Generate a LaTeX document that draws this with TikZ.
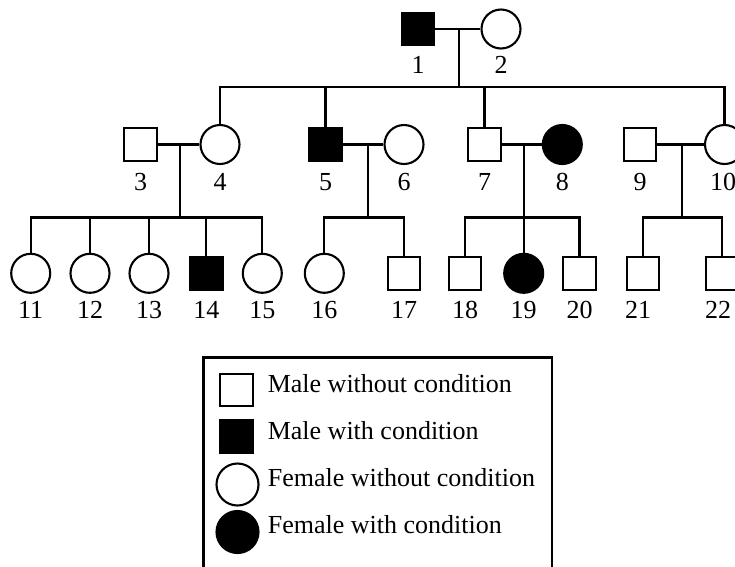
\documentclass[tikz,border=0pt]{standalone}
\usepackage{fontspec}
\setmainfont{Liberation Serif}
\tikzset{
  male/.style={draw, line width=2.1pt, minimum size=32.5pt, inner sep=0pt},
  female/.style={circle, draw, line width=2.1pt, minimum size=39pt, inner sep=0pt},
  affected/.style={fill=black},
  num/.style={inner sep=0pt, font=\fontsize{26}{30}\selectfont},
}
\begin{document}
\begin{tikzpicture}[x=1pt, y=-1pt, line width=2.2pt]
  \useasboundingbox (0,0) rectangle (735,566);
  % generation I
  \draw
    (418,29) node[male,affected] (p1){}
    (501,29) node[female] (p2){};
  % generation II
  \draw
    (140.5,144.5) node[male] (p3){}
    (220,144.5) node[female] (p4){}
    (325.5,144.5) node[male,affected] (p5){}
    (404,144.5) node[female] (p6){}
    (484.5,144.5) node[male] (p7){}
    (562.3,144.5) node[female,affected] (p8){}
    (640,144.5) node[male] (p9){}
    (724.5,144.5) node[female] (p10){};
  % generation III
  \draw
    (30.7,273.3) node[female] (p11){}
    (90,273.3) node[female] (p12){}
    (149,273.3) node[female] (p13){}
    (206.3,273.3) node[male,affected] (p14){}
    (262.3,273.3) node[female] (p15){}
    (324.3,273.3) node[female] (p16){}
    (404,273.3) node[male] (p17){}
    (465,273.3) node[male] (p18){}
    (523.7,273.3) node[female,affected] (p19){}
    (579.5,273.3) node[male] (p20){}
    (643,273.3) node[male] (p21){}
    (722,273.3) node[male] (p22){};
  % numbers
  \draw[num]
    (418,65) node (l1){1}
    (501,65) node (l2){2}
    (140.5,182) node (l3){3}
    (220,182) node (l4){4}
    (325.5,182) node (l5){5}
    (404,182) node (l6){6}
    (484.5,182) node (l7){7}
    (562.3,182) node (l8){8}
    (640,182) node (l9){9}
    (723,182) node (l10){10}
    (30.7,310) node (l11){11}
    (90,310) node (l12){12}
    (149,310) node (l13){13}
    (206.3,310) node (l14){14}
    (262.3,310) node (l15){15}
    (324.3,310) node (l16){16}
    (404,310) node (l17){17}
    (465,310) node (l18){18}
    (523.7,310) node (l19){19}
    (579.5,310) node (l20){20}
    (638,310) node (l21){21}
    (718,310) node (l22){22};
  % couples
  \coordinate (m12) at (459.3,29);
  \coordinate (m34) at (180.3,144.5);
  \coordinate (m56) at (367.7,144.5);
  \coordinate (m78) at (523.7,144.5);
  \coordinate (m910) at (682.3,144.5);
  \coordinate (s12) at (459.3,87);
  \coordinate (s34) at (180.3,217.5);
  \coordinate (s56) at (367.7,217.5);
  \coordinate (s78) at (523.7,217.5);
  \coordinate (s910) at (682.3,217.5);
  \begin{scope}[-]
    \draw (p1) to (p2);
    \draw (p3) to (p4);
    \draw (p5) to (p6);
    \draw (p7) to (p8);
    \draw (p9) to (p10);
    \draw (m12) to (s12);
    \draw (m34) to (s34);
    \draw (m56) to (s56);
    \draw (m78) to (s78);
    \draw (m910) to (s910);
    % sibship lines
    \draw (p4.north) -- (p4.north |- s12) -- (p10.north |- s12) -- (p10.north);
    \draw (p5.north |- s12) to (p5.north);
    \draw (p7.north |- s12) to (p7.north);
    \draw (p11.north) -- (p11.north |- s34) -- (p15.north |- s34) -- (p15.north);
    \draw (p12.north |- s34) to (p12.north);
    \draw (p13.north |- s34) to (p13.north);
    \draw (p14.north |- s34) to (p14.north);
    \draw (p16.north) -- (p16.north |- s56) -- (p17.north |- s56) -- (p17.north);
    \draw (p18.north) -- (p18.north |- s78) -- (p20.north |- s78) -- (p20.north);
    \draw (p19.north |- s78) to (p19.north);
    \draw (p21.north) -- (p21.north |- s910) -- (p22.north |- s910) -- (p22.north);
  \end{scope}
  % legend
  \draw[line width=2.4pt] (203.3,357.3) rectangle (551.7,600);
  \draw
    (236.3,390) node[male] (k1){}
    (236.3,436.7) node[male,affected] (k2){}
    (237.5,484.5) node[female, minimum size=42pt] (k3){}
    (237.5,532) node[female,affected, minimum size=42pt] (k4){};
  \draw[num, anchor=west]
    (266.7,384) node (t1){Male without condition}
    (266.7,431) node (t2){Male with condition}
    (266.7,477.5) node (t3){Female without condition}
    (266.7,525) node (t4){Female with condition};
\end{tikzpicture}
\end{document}
